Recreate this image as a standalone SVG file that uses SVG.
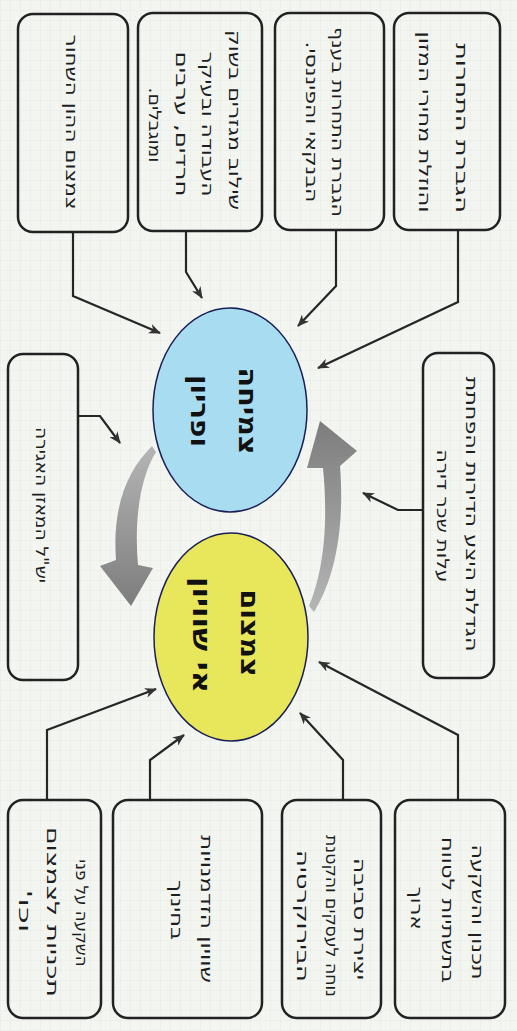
<svg xmlns="http://www.w3.org/2000/svg" width="517" height="1031" viewBox="0 0 517 1031">
<defs>
<pattern id="grid" width="10" height="10" patternUnits="userSpaceOnUse">
<path d="M10 0 L0 0 0 10" fill="none" stroke="#e2e7df" stroke-width="0.8"/>
</pattern>
<marker id="ah" viewBox="0 0 12 10" refX="11" refY="5" markerWidth="12" markerHeight="10" markerUnits="userSpaceOnUse" orient="auto">
<path d="M0 0 L12 5 L0 10 L3.5 5 Z" fill="#333"/>
</marker>
<linearGradient id="gg" x1="0" y1="0" x2="0" y2="1">
<stop offset="0" stop-color="#b5b5b5"/>
<stop offset="1" stop-color="#7d7d7d"/>
</linearGradient>
<linearGradient id="gg2" x1="0" y1="1" x2="0" y2="0">
<stop offset="0" stop-color="#b5b5b5"/>
<stop offset="1" stop-color="#7d7d7d"/>
</linearGradient>
</defs>
<style>
.box{fill:none;stroke:#222;stroke-width:2.5}
.t{font-family:"DejaVu Sans","Liberation Sans",sans-serif;font-size:17px;fill:#1e1e1e;direction:rtl}
.b{font-family:"DejaVu Sans","Liberation Sans",sans-serif;font-size:25px;font-weight:bold;fill:#111;direction:rtl}
.c{fill:none;stroke:#262626;stroke-width:2.2}
</style>
<rect width="517" height="1031" fill="#f3f5f1"/>
<rect width="517" height="1031" fill="url(#grid)"/>

<g id="connectors">
<polyline class="c" points="458,230 458,302 318,368" marker-end="url(#ah)"/>
<polyline class="c" points="336,231 336,286 298,326" marker-end="url(#ah)"/>
<polyline class="c" points="186,232 186,272 202,298" marker-end="url(#ah)"/>
<polyline class="c" points="73,233 73,296 160,333" marker-end="url(#ah)"/>
<polyline class="c" points="423,510 398,510 363,493" marker-end="url(#ah)"/>
<polyline class="c" points="78,416 100,416 120,443" marker-end="url(#ah)"/>
<polyline class="c" points="458,800 458,735 319,662" marker-end="url(#ah)"/>
<polyline class="c" points="343,800 343,760 300,713" marker-end="url(#ah)"/>
<polyline class="c" points="150,800 150,760 184,735" marker-end="url(#ah)"/>
<polyline class="c" points="47,800 47,730 156,689" marker-end="url(#ah)"/>
<path id="garrow-left" d="M152,446 C128,470 112,505 116,560 L100,566 L131,606 L153,568 L138,565 C134,520 140,478 156,452 Z" fill="url(#gg)"/>
<path id="garrow-right" d="M314,612 C334,580 345,530 340,466 L357,451 L320,421 L307,468 L323,468 C329,530 322,575 309,606 Z" fill="url(#gg2)"/>
</g>

<g id="n-growth">
<ellipse cx="230" cy="410" rx="77" ry="102" fill="#a8dcf1" stroke="#1b1f55" stroke-width="1.5"/>
<text class="b" transform="translate(248,411) rotate(90)" dy="0.35em" text-anchor="middle" textLength="87" lengthAdjust="spacingAndGlyphs">צמיחה</text>
<text class="b" transform="translate(200,411) rotate(90)" dy="0.35em" text-anchor="middle" textLength="72" lengthAdjust="spacingAndGlyphs">ופריון</text>
</g>

<g id="n-equality">
<ellipse cx="231" cy="637" rx="77" ry="104" fill="#e8e65b" stroke="#1b1f55" stroke-width="1.5"/>
<text class="b" transform="translate(250,633) rotate(90)" dy="0.35em" text-anchor="middle" textLength="87" lengthAdjust="spacingAndGlyphs">צמצום</text>
<text class="b" transform="translate(202,635) rotate(90)" dy="0.35em" text-anchor="middle" textLength="116" lengthAdjust="spacingAndGlyphs">אי שוויון</text>
</g>

<g id="n-top1">
<rect class="box" x="394" y="13" width="106" height="217" rx="15"/>
<text class="t" transform="translate(462,128) rotate(90)" dy="0.35em" text-anchor="middle" textLength="170" lengthAdjust="spacingAndGlyphs">הגברת התחרות</text>
<text class="t" transform="translate(425,122) rotate(90)" dy="0.35em" text-anchor="middle" textLength="181" lengthAdjust="spacingAndGlyphs">והוזלת מחירי המזון</text>
</g>

<g id="n-top2">
<rect class="box" x="275" y="13" width="109" height="217" rx="15"/>
<text class="t" transform="translate(338,122) rotate(90)" dy="0.35em" text-anchor="middle" textLength="190" lengthAdjust="spacingAndGlyphs">הגברת התחרות בענף</text>
<text class="t" transform="translate(312,122) rotate(90)" dy="0.35em" text-anchor="middle" textLength="161" lengthAdjust="spacingAndGlyphs">הבנקאי והפיננסי.</text>
</g>

<g id="n-top3">
<rect class="box" x="138" y="13" width="124" height="218" rx="15"/>
<text class="t" transform="translate(235,120) rotate(90)" dy="0.35em" text-anchor="middle" textLength="180" lengthAdjust="spacingAndGlyphs">שילוב מגזרים בשוק</text>
<text class="t" transform="translate(208,124) rotate(90)" dy="0.35em" text-anchor="middle" textLength="145" lengthAdjust="spacingAndGlyphs">העבודה ובעיקר</text>
<text class="t" transform="translate(182,124) rotate(90)" dy="0.35em" text-anchor="middle" textLength="145" lengthAdjust="spacingAndGlyphs">חרדים, ערבים</text>
<text class="t" transform="translate(155,125) rotate(90)" dy="0.35em" text-anchor="middle" textLength="75" lengthAdjust="spacingAndGlyphs">ומוגבלים.</text>
</g>

<g id="n-top4">
<rect class="box" x="18" y="14" width="110" height="218" rx="15"/>
<text class="t" transform="translate(72,122) rotate(90)" dy="0.35em" text-anchor="middle" textLength="175" lengthAdjust="spacingAndGlyphs">צמצום ההון השחור</text>
</g>

<g id="n-right">
<rect class="box" x="423" y="353" width="71" height="325" rx="15"/>
<text class="t" transform="translate(472,514) rotate(90)" dy="0.35em" text-anchor="middle" textLength="275" lengthAdjust="spacingAndGlyphs">הגדלת היצע הדירות והפחתת</text>
<text class="t" transform="translate(443,516) rotate(90)" dy="0.35em" text-anchor="middle" textLength="133" lengthAdjust="spacingAndGlyphs">עלות שכר דירה</text>
</g>

<g id="n-left">
<rect class="box" x="8" y="354" width="70" height="326" rx="15"/>
<text class="t" transform="translate(42,505) rotate(90)" dy="0.35em" text-anchor="middle" textLength="156" lengthAdjust="spacingAndGlyphs">יש"ל המאזן האגירה</text>
</g>

<g id="n-bot1">
<rect class="box" x="395" y="800" width="110" height="218" rx="15"/>
<text class="t" transform="translate(478,912) rotate(90)" dy="0.35em" text-anchor="middle" textLength="135" lengthAdjust="spacingAndGlyphs">תכנון והשקעה</text>
<text class="t" transform="translate(448,910) rotate(90)" dy="0.35em" text-anchor="middle" textLength="146" lengthAdjust="spacingAndGlyphs">בתשתיות לטווח</text>
<text class="t" transform="translate(417,908) rotate(90)" dy="0.35em" text-anchor="middle" textLength="43" lengthAdjust="spacingAndGlyphs">ארוך</text>
</g>

<g id="n-bot2">
<rect class="box" x="282" y="800" width="99" height="218" rx="15"/>
<text class="t" transform="translate(360,919) rotate(90)" dy="0.35em" text-anchor="middle" textLength="122" lengthAdjust="spacingAndGlyphs">יצירת סביבה</text>
<text class="t" transform="translate(332,916) rotate(90)" dy="0.35em" text-anchor="middle" textLength="162" lengthAdjust="spacingAndGlyphs">נוחה לעסקים והקטנת</text>
<text class="t" transform="translate(303,916) rotate(90)" dy="0.35em" text-anchor="middle" textLength="132" lengthAdjust="spacingAndGlyphs">הבירוקרטיה</text>
</g>

<g id="n-bot3">
<rect class="box" x="113" y="800" width="149" height="218" rx="15"/>
<text class="t" transform="translate(207,909) rotate(90)" dy="0.35em" text-anchor="middle" textLength="148" lengthAdjust="spacingAndGlyphs">שוויון הזדמנויות</text>
<text class="t" transform="translate(177,910) rotate(90)" dy="0.35em" text-anchor="middle" textLength="60" lengthAdjust="spacingAndGlyphs">בחינוך</text>
</g>

<g id="n-bot4">
<rect class="box" x="8" y="800" width="93" height="218" rx="15"/>
<text class="t" transform="translate(82,913) rotate(90)" dy="0.35em" text-anchor="middle" textLength="107" lengthAdjust="spacingAndGlyphs">השקעה על פני</text>
<text class="t" transform="translate(53,912) rotate(90)" dy="0.35em" text-anchor="middle" textLength="170" lengthAdjust="spacingAndGlyphs">תכניות לצמצום</text>
<text class="t" transform="translate(25,911) rotate(90)" dy="0.35em" text-anchor="middle" textLength="43" lengthAdjust="spacingAndGlyphs">וכו'</text>
</g>
</svg>
